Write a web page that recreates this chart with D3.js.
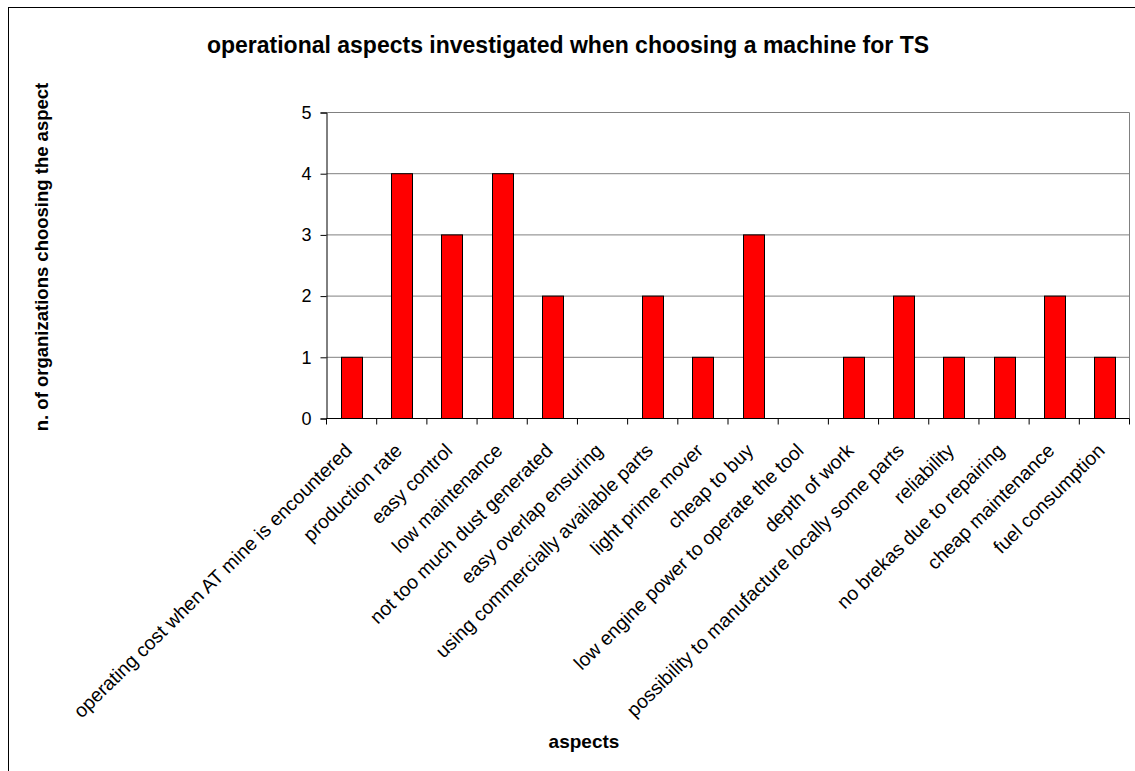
<!DOCTYPE html>
<html><head><meta charset="utf-8">
<script src="https://cdn.jsdelivr.net/npm/d3@7"></script>
<style>body{margin:0;background:#fff}svg{display:block;font-family:"Liberation Sans",Arial,sans-serif}</style>
</head><body><svg id="c" width="1135" height="771"></svg>
<script>
const categories = ["operating cost when AT mine is encountered","production rate","easy control","low maintenance","not too much dust generated","easy overlap ensuring","using commercially available parts","light prime mover","cheap to buy","low engine power to operate the tool","depth of work","possibility to manufacture locally some parts","reliability","no brekas due to repairing","cheap maintenance","fuel consumption"];
const values = [1,4,3,4,2,0,2,1,3,0,1,2,1,1,2,1];
const yTicks = [0,1,2,3,4,5];
const title = "operational aspects investigated when choosing a machine for TS";
const xTitle = "aspects";
const yTitle = "n. of organizations choosing the aspect";

const svg = d3.select("#c");
svg.append("rect").attr("x",8.5).attr("y",7.5).attr("width",1200).attr("height",900).attr("fill","none").attr("stroke","#000").attr("stroke-width",1);

const L=326.5, R=1129.5, T=112.5, B=418.5;
const x = d3.scaleBand().domain(categories).range([L,R]).paddingInner(0).paddingOuter(0);
const y = d3.scaleLinear().domain([0,5]).range([B,T]);

const g = svg.append("g");
g.selectAll("line.grid").data(yTicks.filter(d=>d>0)).join("line")
  .attr("x1",L).attr("x2",R).attr("y1",d=>y(d)).attr("y2",d=>y(d)).attr("stroke","#808080").attr("stroke-width",1);
g.append("line").attr("x1",R).attr("x2",R).attr("y1",T).attr("y2",B).attr("stroke","#808080");

const bw = 21;
g.selectAll("rect.bar").data(values).join("rect")
  .attr("x",(d,i)=>Math.round(x(categories[i])+x.bandwidth()/2-bw/2)+0.5)
  .attr("y",d=>y(d)).attr("width",bw).attr("height",d=>B-y(d))
  .attr("fill","#ff0000").attr("stroke","#000").attr("stroke-width",1)
  .attr("display",d=>d>0?null:"none");

const ya = svg.append("g").attr("transform",`translate(${L},0)`)
  .call(d3.axisLeft(y).tickValues(yTicks).tickSize(6).tickPadding(9).tickFormat(d3.format("d")));
ya.select(".domain").attr("stroke","#000");
ya.selectAll("line").attr("stroke","#000");
ya.selectAll("text").attr("font-size",18).attr("font-family","Liberation Sans, Arial").attr("fill","#000");

const xa = svg.append("g").attr("transform",`translate(0,${B})`);
xa.append("line").attr("x1",L).attr("x2",R).attr("stroke","#000");
const edges = categories.map(c=>x(c)).concat([R]);
xa.selectAll("line.t").data(edges).join("line").attr("x1",d=>d).attr("x2",d=>d).attr("y1",0).attr("y2",6).attr("stroke","#000");
xa.selectAll("text").data(categories).join("text")
  .attr("transform",c=>`translate(${x(c)+x.bandwidth()/2+1.5},${33.5}) rotate(-44.5)`)
  .attr("text-anchor","end").attr("font-size",19.4).text(c=>c);

svg.append("text").attr("x",568).attr("y",52.5).attr("text-anchor","middle").attr("font-size",23).attr("font-weight","bold").text(title);
svg.append("text").attr("x",584).attr("y",748).attr("text-anchor","middle").attr("font-size",19).attr("font-weight","bold").text(xTitle);
svg.append("text").attr("transform","translate(48,257) rotate(-90)").attr("text-anchor","middle").attr("font-size",18.5).attr("font-weight","bold").text(yTitle);
</script></body></html>
